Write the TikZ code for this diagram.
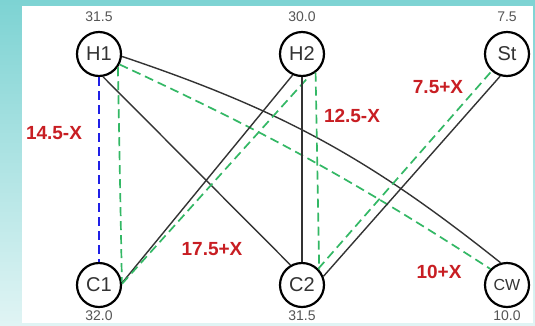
\documentclass[tikz,border=0pt]{standalone}
\usepackage{fontspec}
\setmainfont{Liberation Sans}
\definecolor{tealtop}{HTML}{7DD3D3}
\definecolor{tealbot}{HTML}{E0F4F4}
\definecolor{flowgreen}{HTML}{33B865}
\definecolor{flowblue}{HTML}{2020E6}
\definecolor{flowred}{HTML}{C81E23}
\definecolor{nodegray}{HTML}{333333}
\definecolor{numgray}{HTML}{555555}
\tikzset{
  unit/.style={circle, draw=black, line width=2.2pt, minimum size=44pt, inner sep=0pt,
    text=nodegray, font=\fontsize{20}{20}\selectfont},
  temp/.style={text=numgray, inner sep=0pt, font=\fontsize{14}{14}\selectfont},
  flow/.style={text=flowred, inner sep=0pt, font=\fontsize{19}{19}\selectfont\bfseries},
  pipe/.style={draw=nodegray, line width=1.4pt},
  gdash/.style={draw=flowgreen, line width=1.7pt, dash pattern=on 9pt off 5pt},
  bdash/.style={draw=flowblue, line width=1.7pt, dash pattern=on 9pt off 5pt},
}
\begin{document}
\begin{tikzpicture}[x=1pt, y=1pt]
    % frame
    \shade[top color=tealtop, bottom color=tealbot] (0,0) rectangle (535,-325);
    \fill[white] (22,-6) rectangle (533,-323);
    % streams
    \node[unit] (H1) at (99,-54) {H1};
    \node[unit] (H2) at (302,-54) {H2};
    \node[unit] (St) at (507,-54) {St};
    \node[unit] (C1) at (99,-285) {C1};
    \node[unit] (C2) at (302,-285) {C2};
    \node[unit, font=\fontsize{16}{16}\selectfont] (CW) at (507,-285) {CW};
    % temperatures
    \node[temp] (tH1) at (99,-17) {31.5};
    \node[temp] (tH2) at (302,-17) {30.0};
    \node[temp] (tSt) at (507,-17) {7.5};
    \node[temp] (tC1) at (99,-316) {32.0};
    \node[temp] (tC2) at (302,-316) {31.5};
    \node[temp] (tCW) at (507,-316) {10.0};
    % matches
    \draw[bdash] (H1.south) -- (C1.north);
    \draw[gdash] (H1.-35) -- (C1.8);
    \draw[pipe] (H1.-80) -- (C2.120);
    \draw[pipe] (H1.-6) to[bend left=10] (CW.106);
    \draw[gdash] (H1.-27) to[bend left=4] (CW.136);
    \draw[pipe] (C1.5) -- (H2.-114);
    \draw[gdash] (C1.3) -- (H2.-71);
    \draw[pipe] (H2.south) -- (C2.north);
    \draw[gdash] (H2.-54) -- (C2.42);
    \draw[gdash] (C2.45) -- (St.-132);
    \draw[pipe] (C2.22) -- (St.-107);
    % loads
    \node[flow] (f1) at (54,-133) {14.5-X};
    \node[flow] (f2) at (352,-116) {12.5-X};
    \node[flow] (f3) at (438,-87) {7.5+X};
    \node[flow] (f4) at (212,-249) {17.5+X};
    \node[flow] (f5) at (439,-272) {10+X};
\end{tikzpicture}
\end{document}
